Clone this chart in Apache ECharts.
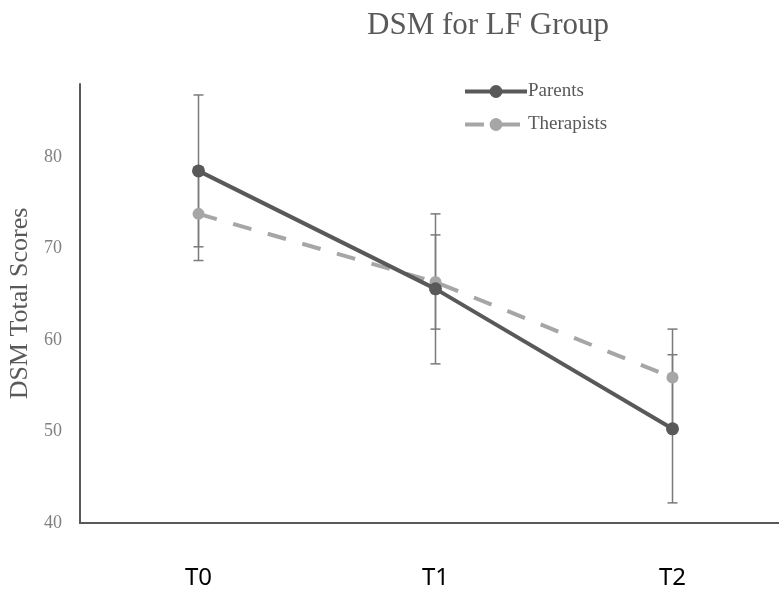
<!DOCTYPE html>
<html><head><meta charset="utf-8">
<script src="https://cdn.jsdelivr.net/npm/echarts@6/dist/echarts.min.js"></script>
<style>html,body{margin:0;padding:0;background:#fff}#c{width:779px;height:594px}</style>
</head><body><div id="c"></div>
<script>
var categories = ['T0', 'T1', 'T2'];
var parents = [78.5, 65.6, 50.3];
var parentsErr = [8.3, 8.2, 8.1];
var therapists = [73.8, 66.35, 55.9];
var therapistsErr = [5.1, 5.15, 5.3];
var yTicks = [40, 50, 60, 70, 80];

function errData(vals, errs) {
  return vals.map(function (v, i) { return [i, v - errs[i], v + errs[i]]; });
}
function errRender(params, api) {
  var x = api.value(0);
  var lo = api.coord([x, api.value(1)]);
  var hi = api.coord([x, api.value(2)]);
  var w = 5;
  var st = { stroke: '#7a7a7a', lineWidth: 1.5 };
  return { type: 'group', children: [
    { type: 'line', shape: { x1: lo[0], y1: lo[1], x2: hi[0], y2: hi[1] }, style: st },
    { type: 'line', shape: { x1: lo[0] - w, y1: lo[1], x2: lo[0] + w, y2: lo[1] }, style: st },
    { type: 'line', shape: { x1: hi[0] - w, y1: hi[1], x2: hi[0] + w, y2: hi[1] }, style: st }
  ]};
}

var chart = echarts.init(document.getElementById('c'));
chart.setOption({
  animation: false,
  title: { text: 'DSM for LF Group', left: 483, top: 5, textAlign: 'center',
    textStyle: { fontFamily: 'Liberation Serif', fontSize: 31, fontWeight: 'normal', color: '#595959' } },
  legend: { orient: 'vertical', left: 458, top: 77, itemWidth: 62, itemHeight: 16, itemGap: 14,
    data: ['Parents', 'Therapists'],
    lineStyle: { width: 4 },
    textStyle: { fontFamily: 'Liberation Serif', fontSize: 19, color: '#595959', padding: [0, 0, 0, -4] } },
  grid: { left: 80, right: -12, top: 84, bottom: 71, outerBoundsMode: 'none' },
  xAxis: { type: 'category', data: categories, boundaryGap: true,
    axisLine: { lineStyle: { color: '#595959', width: 2 } }, axisTick: { show: false },
    axisLabel: { margin: 43, fontFamily: 'Noto Sans', fontSize: 24, color: '#000' } },
  yAxis: { type: 'value', min: 40, max: 88, interval: 10,
    name: 'DSM Total Scores', nameLocation: 'middle', nameGap: 40, nameRotate: 90,
    nameTextStyle: { fontFamily: 'Liberation Serif', fontSize: 26, color: '#595959' },
    axisLine: { show: true, lineStyle: { color: '#595959', width: 2 } }, axisTick: { show: false },
    splitLine: { show: false },
    axisLabel: { margin: 18, fontFamily: 'Liberation Serif', fontSize: 18, color: '#808080',
      formatter: function (v) { return yTicks.indexOf(v) >= 0 ? String(v) : ''; } } },
  series: [
    { type: 'custom', name: 'ParentsErr', renderItem: errRender, data: errData(parents, parentsErr), z: 1, silent: true },
    { type: 'custom', name: 'TherapistsErr', renderItem: errRender, data: errData(therapists, therapistsErr), z: 1, silent: true },
    { type: 'line', name: 'Therapists', data: therapists, symbol: 'circle', symbolSize: 12, z: 2,
      itemStyle: { color: '#a6a6a6' }, lineStyle: { color: '#a6a6a6', width: 4, type: [19, 17] } },
    { type: 'line', name: 'Parents', data: parents, symbol: 'circle', symbolSize: 13, z: 3,
      itemStyle: { color: '#595959' }, lineStyle: { color: '#595959', width: 4 } }
  ]
});
</script></body></html>
